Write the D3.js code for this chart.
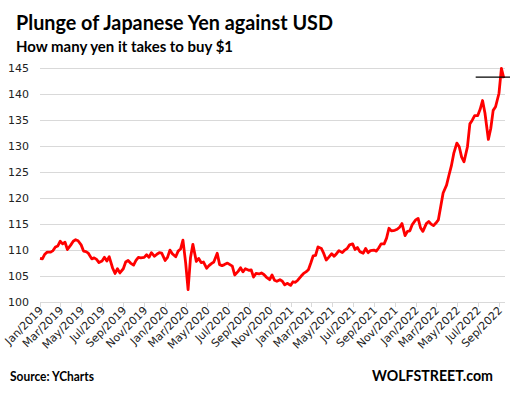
<!DOCTYPE html>
<html>
<head>
<meta charset="utf-8">
<script src="https://cdn.jsdelivr.net/npm/d3@7"></script>
<style>
  body{margin:0;background:#fff}
  svg{display:block}
  .grid line{stroke:#d9d9d9;stroke-width:1}
  .ylab,.xlab{font-family:"DejaVu Sans",sans-serif;font-size:11px;fill:#222}
  .ttl{font-family:Lato,sans-serif;font-weight:bold;fill:#000}
</style>
</head>
<body>
<svg id="chart" width="511" height="393"></svg>
<script>
// USD/JPY, 4 readings per month (~1st, 8th, 15th, 22nd)
const yen2019 = [108.4,108.3,109.2,109.6, 109.6,109.9,110.6,110.8, 111.7,111.2,111.5,110.1, 111.0,111.7,112.0,111.8,
  111.0,109.8,109.7,109.4, 108.3,108.5,108.2,107.6, 107.9,108.6,107.9,108.7, 106.5,105.5,106.4,105.6,
  106.4,107.7,108.0,107.5, 107.1,108.0,108.6,108.5, 108.6,109.1,108.6,109.5, 108.8,109.2,109.5,109.4]
const yen2020 = [108.0,108.6,110.0,109.3, 108.7,109.8,110.2,111.9, 107.5,102.4,108.5,111.1, 107.8,108.4,107.6,107.7,
  106.5,107.0,107.4,107.7, 109.4,107.2,107.0,107.2, 107.5,107.2,106.9,105.2, 105.9,106.6,105.8,106.4,
  106.1,106.2,104.8,105.5, 105.4,105.6,105.3,104.8, 104.3,105.2,104.2,104.0, 104.3,104.0,103.3,103.6]
const yen2021 = [103.2,103.9,103.8,104.2, 105.0,105.5,105.8,106.2, 107.5,108.9,109.0,110.6, 110.3,109.3,108.1,108.6,
  109.3,108.8,109.3,109.9, 109.5,110.0,110.3,111.0, 111.2,110.1,110.5,109.7, 109.4,110.3,109.5,109.9,
  110.0,109.8,110.4,111.2, 111.2,112.3,114.2,113.7, 113.8,114.0,114.4,115.1, 112.8,113.6,113.7,114.9]
const yen2022 = [115.8,116.1,114.3,113.6, 115.1,115.5,115.0,114.7, 115.2,115.8,118.4,121.0, 122.5,124.4,126.2,128.6,
  130.6,129.9,127.9,127.0, 129.9,134.3,135.0,135.9, 135.9,137.1,138.8,136.4, 131.3,133.4,136.9,137.6,
  140.2,145.0,143.1]
const yearStarts = [2019,2020,2021,2022]
const tickMonths = d3.timeMonth.range(new Date(2019,0,1), new Date(2022,9,1), 2)
const yTicks = [100,105,110,115,120,125,130,135,140,145]
const markLevel = 143.3
const markFrom = new Date(2022,5,25)

const series = [yen2019,yen2020,yen2021,yen2022].flatMap((arr,k)=>
  arr.map((v,i)=>({date:new Date(yearStarts[k], Math.floor(i/4), 1+(i%4)*7), v})))

const svg = d3.select('#chart')
const W = 511
const x = d3.scaleTime().domain([new Date(2019,0,1), new Date(2022,8,1)]).range([40,499])
const y = d3.scaleLinear().domain([100,145]).range([302,68.3])
const gridRight = 505

// gridlines
svg.append('g').attr('class','grid').selectAll('line').data(yTicks).join('line')
  .attr('x1',40).attr('x2',gridRight).attr('y1',d=>Math.round(y(d))+0.5).attr('y2',d=>Math.round(y(d))+0.5)

svg.append('g').selectAll('text').data(yTicks).join('text')
  .attr('class','ylab').attr('text-anchor','end')
  .attr('x',29).attr('y',d=>y(d)+4).text(d=>d)

// x ticks + labels
svg.append('g').selectAll('line').data(tickMonths).join('line')
  .attr('x1',d=>Math.round(x(d))+0.5).attr('x2',d=>Math.round(x(d))+0.5)
  .attr('y1',302).attr('y2',307).attr('stroke','#d9d9d9')

const fmt = d3.timeFormat('%b/%Y')
svg.append('g').selectAll('text').data(tickMonths).join('text')
  .attr('class','xlab').attr('text-anchor','end')
  .attr('transform',d=>`translate(${x(d)+4},${311}) rotate(-45)`)
  .text(d=>fmt(d))

// line
svg.append('path').datum(series)
  .attr('fill','none').attr('stroke','#ff0000').attr('stroke-width',2.8)
  .attr('stroke-linejoin','round')
  .attr('d',d3.line().x(d=>x(d.date)).y(d=>y(d.v)))

// marker line
svg.append('line').attr('x1',x(markFrom)).attr('x2',W-1)
  .attr('y1',y(markLevel)).attr('y2',y(markLevel)).attr('stroke','#000').attr('stroke-width',1.2)

// titles
svg.append('text').attr('class','ttl').attr('x',16).attr('y',30).attr('font-size',21)
  .attr('textLength',317).attr('lengthAdjust','spacingAndGlyphs')
  .text('Plunge of Japanese Yen against USD')
svg.append('text').attr('class','ttl').attr('x',16).attr('y',52).attr('font-size',15.5)
  .attr('textLength',217).attr('lengthAdjust','spacingAndGlyphs')
  .text('How many yen it takes to buy $1')
svg.append('text').attr('class','ttl').attr('x',10).attr('y',381).attr('font-size',12.5)
  .attr('textLength',84).attr('lengthAdjust','spacingAndGlyphs')
  .text('Source: YCharts')
svg.append('text').attr('class','ttl').attr('x',372).attr('y',381).attr('font-size',14.5)
  .attr('textLength',121).attr('lengthAdjust','spacingAndGlyphs')
  .text('WOLFSTREET.com')
</script>
</body>
</html>
